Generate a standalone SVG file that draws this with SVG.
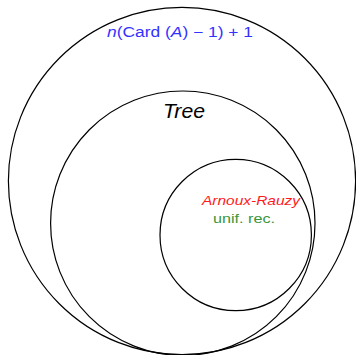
<svg xmlns="http://www.w3.org/2000/svg" width="356" height="355" viewBox="0 0 356 355">
<style>
.c{fill:none;stroke:#000;stroke-width:1.2}
.t{font-family:"Liberation Sans","DejaVu Sans",sans-serif}
.i{font-style:italic}
</style>
<rect width="356" height="355" fill="#fff"/>
<g id="outer"><circle class="c" cx="182" cy="181" r="173.6"/>
<text class="t" x="180" y="37" font-size="14" fill="#3333ff" text-anchor="middle" textLength="146" lengthAdjust="spacingAndGlyphs"><tspan class="i">n</tspan>(Card (<tspan class="i">A</tspan>) − 1) + 1</text></g>
<g id="tree"><circle class="c" cx="182.8" cy="223.2" r="132.2"/>
<text class="t i" x="184" y="118" font-size="20" fill="#000" text-anchor="middle" textLength="42" lengthAdjust="spacingAndGlyphs">Tree</text></g>
<g id="ar"><circle class="c" cx="235.7" cy="235" r="75.7"/>
<text class="t i" x="251" y="205" font-size="13.5" fill="#ff1a1a" text-anchor="middle" textLength="98" lengthAdjust="spacingAndGlyphs">Arnoux-Rauzy</text>
<text class="t" x="244" y="223" font-size="13" fill="#3a963a" text-anchor="middle" textLength="62" lengthAdjust="spacingAndGlyphs">unif. rec.</text></g>
<g id="connectors"/>
</svg>
